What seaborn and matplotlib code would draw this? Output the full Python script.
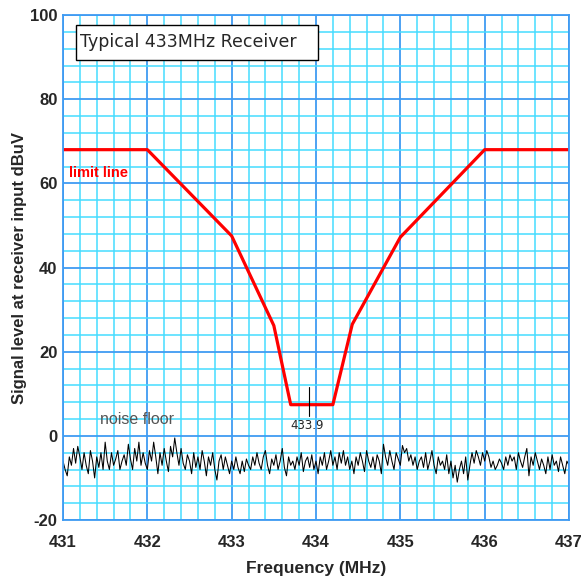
import numpy as np
import pandas as pd
import matplotlib
matplotlib.use("Agg")
import matplotlib.pyplot as plt
from matplotlib.patches import Rectangle
from matplotlib.ticker import MultipleLocator
import seaborn as sns

# limit line corners (MHz, dBuV)
limit_freq = [431.0, 432.0, 433.0, 433.5, 433.7, 434.2, 434.43, 435.0, 436.0, 437.0]
limit_level = [68, 68, 47.5, 26.2, 7.4, 7.4, 26.5, 47.2, 68, 68]

# noise floor, every 0.025 MHz from 431 to 437
noise_start = 431.0
noise_step = 0.025
noise_level = [
    -6, -8, -9.5, -5, -7, -3, -6.5, -2.5, -5, -8,
    -4, -7, -9, -3.5, -6, -10, -5, -7.5, -4, -8,
    -1.5, -6, -8, -4, -7, -5.5, -3.5, -8, -6, -4.5,
    -7, -2, -5.5, -8, -3, -6, -1.5, -7, -4, -6.5,
    -8, -3.5, -6, -1.5, -5, -9, -4, -7, -3, -6,
    -8.5, -2.5, -5, -0.5, -4, -7, -3, -6.5, -8, -4.5,
    -6, -9, -4, -7.5, -5, -8, -3.5, -6, -9.5, -5,
    -7, -4, -8, -10.5, -6, -4.5, -8, -5, -7, -9,
    -6, -8, -5, -7.5, -9, -6, -8.5, -5.5, -7, -8,
    -5, -7, -4, -6.5, -8, -5, -3.5, -7, -9, -5.5,
    -7, -4.5, -8, -6, -3, -7.5, -9.5, -5, -7, -6,
    -8, -5, -7, -4, -8.5, -6, -5, -7.5, -4.5, -8,
    -6, -9, -5, -7, -4, -8, -6, -3.5, -7, -5,
    -8, -4, -6.5, -3.5, -7, -5, -8, -6, -9, -5,
    -7, -4, -6, -8.5, -3.5, -6, -7.5, -5, -8, -4.5,
    -6, -9, -2, -5, -7, -3.5, -6, -8, -4, -5.5,
    -7, -2.3, -4, -3, -6, -4.5, -7, -5, -8, -6,
    -5, -7.5, -4, -8, -6, -3.5, -7, -9, -5, -7,
    -6, -8, -4.5, -9, -6, -10, -7, -11, -8, -6,
    -9, -5, -10.5, -7, -4, -6.5, -3.5, -5, -7, -4,
    -6, -3.5, -5, -7.5, -6, -8, -7, -5.5, -6.5, -8,
    -5, -7, -4.5, -6, -5, -8, -4, -6, -7.5, -5,
    -3, -9.5, -5, -7, -4, -6, -8, -5.5, -7, -9,
    -5, -8, -4.5, -7, -6, -8.5, -5, -7, -9, -6,
    -7,
]
noise_freq = [noise_start + i * noise_step for i in range(len(noise_level))]

marker_freq = 433.92
marker_label = "433.9"

x_ticks = [431, 432, 433, 434, 435, 436, 437]
y_ticks = [-20, 0, 20, 40, 60, 80, 100]

limit_df = pd.DataFrame({"Frequency": limit_freq, "Level": limit_level})
noise_df = pd.DataFrame({"Frequency": noise_freq, "Level": noise_level})

sns.set_style("white")
plt.rcParams["font.family"] = ["Liberation Sans", "DejaVu Sans"]
plt.rcParams["axes.unicode_minus"] = False

minor_col = "#45dcff"
major_col = "#3f9bf2"

fig = plt.figure(figsize=(5.88, 5.80), dpi=100)
ax = fig.add_axes([63 / 588, 60 / 580, 506 / 588, 505 / 580])

sns.lineplot(data=noise_df, x="Frequency", y="Level", ax=ax, color="black",
             lw=0.75, sort=False, estimator=None)
sns.lineplot(data=limit_df, x="Frequency", y="Level", ax=ax, color="#ff0000",
             lw=2.3, sort=False, estimator=None)

ax.set_xlim(431, 437)
ax.set_ylim(-20, 100)
ax.set_xticks(x_ticks)
ax.set_yticks(y_ticks)
ax.xaxis.set_minor_locator(MultipleLocator(0.2))
ax.yaxis.set_minor_locator(MultipleLocator(4))
ax.set_axisbelow(True)
ax.grid(which="minor", color=minor_col, lw=1.1)
ax.grid(which="major", color=major_col, lw=1.3)
for s in ax.spines.values():
    s.set_color(major_col)
    s.set_linewidth(1.3)

ax.tick_params(axis="x", which="both", direction="out", length=7, width=1.1,
               color=minor_col, pad=4, labelsize=12)
ax.tick_params(axis="x", which="major", color=major_col)
ax.tick_params(axis="y", which="both", length=0, pad=4, labelsize=12)
for lab in ax.get_xticklabels() + ax.get_yticklabels():
    lab.set_fontweight("bold")

ax.set_xlabel("Frequency (MHz)", fontsize=12.5, fontweight="bold", labelpad=8)
ax.set_ylabel("Signal level at receiver input dBuV", fontsize=12, fontweight="bold",
              labelpad=2)

# title box
ax.add_patch(Rectangle((0.0257, 0.911), 0.478, 0.069, transform=ax.transAxes,
                       facecolor="white", edgecolor="black", lw=1.0, zorder=5))
ax.text(0.034, 0.9465, "Typical 433MHz Receiver", transform=ax.transAxes,
        fontsize=12.5, family=["DejaVu Sans"], va="center", ha="left", zorder=6)

ax.text(431.07, 62.4, "limit line", color="#ff0000", fontsize=10.5,
        fontweight="bold", va="center", ha="left")
ax.text(431.44, 3.8, "noise floor", color="#555555", fontsize=11.5,
        va="center", ha="left")

ax.plot([marker_freq, marker_freq], [4.8, 11.6], color="black", lw=0.8)
ax.text(marker_freq - 0.03, 2.4, marker_label, fontsize=8.5, family=["DejaVu Sans"],
        va="center", ha="center")

fig.savefig("out.png", dpi=100)
